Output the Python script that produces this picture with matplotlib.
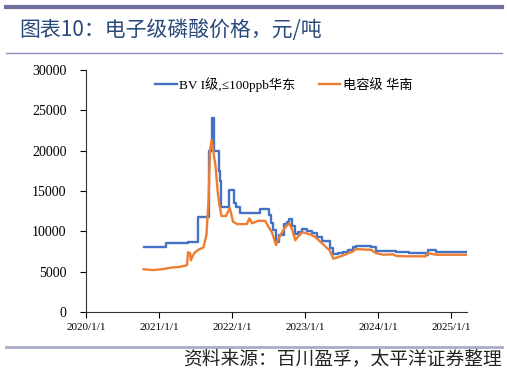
import numpy as np
import pandas as pd
import matplotlib
matplotlib.use("Agg")
import matplotlib.pyplot as plt
import matplotlib.dates as mdates
from matplotlib.lines import Line2D

# --- data (元/吨) --------------------------------------------------------------
bv_dates = ["2020-10-15", "2021-02-04", "2021-05-25", "2021-07-15", "2021-09-08",
            "2021-09-20", "2021-10-04", "2021-10-25", "2021-11-01", "2021-11-08",
            "2021-12-15", "2022-01-08", "2022-01-20", "2022-02-10", "2022-05-19",
            "2022-07-04", "2022-07-12", "2022-07-25", "2022-08-08", "2022-08-25",
            "2022-09-15", "2022-10-01", "2022-10-13", "2022-10-25", "2022-11-12",
            "2022-11-25", "2022-12-18", "2023-01-10", "2023-02-05", "2023-03-01",
            "2023-03-27", "2023-05-04", "2023-05-22", "2023-06-15", "2023-07-08",
            "2023-08-01", "2023-08-27", "2023-09-12", "2023-11-27", "2023-12-20",
            "2024-01-26", "2024-04-01", "2024-06-01", "2024-08-25", "2024-09-05",
            "2024-10-16", "2025-03-20"]
bv_vals = [8000, 8600, 8700, 11800, 20000,
           24000, 20000, 17500, 16300, 13000,
           15100, 13500, 13000, 12300, 12800,
           12000, 11000, 10200, 8700, 9500,
           10900, 11200, 11500, 10600, 9700,
           9900, 10300, 10000, 9800, 9300,
           8800, 7900, 7200, 7300, 7500,
           7700, 8000, 8200, 8000, 7600,
           7550, 7400, 7300, 7100, 7700,
           7450, 7450]

cap_dates = ["2020-10-15", "2020-12-01", "2021-01-15", "2021-03-01", "2021-04-15",
             "2021-05-20", "2021-05-25", "2021-06-05", "2021-06-08", "2021-06-25",
             "2021-07-15", "2021-08-10", "2021-08-25", "2021-09-05", "2021-09-12",
             "2021-09-20", "2021-10-10", "2021-10-20", "2021-10-28", "2021-11-08",
             "2021-12-01", "2021-12-20", "2022-01-05", "2022-01-25", "2022-03-15",
             "2022-03-28", "2022-04-10", "2022-05-10", "2022-06-15", "2022-07-01",
             "2022-07-20", "2022-08-08", "2022-08-25", "2022-09-20", "2022-10-13",
             "2022-10-28", "2022-11-12", "2022-11-25", "2022-12-18", "2023-01-15",
             "2023-02-15", "2023-03-27", "2023-05-04", "2023-05-22", "2023-06-15",
             "2023-07-08", "2023-08-27", "2023-09-12", "2023-11-27", "2023-12-20",
             "2024-01-26", "2024-03-15", "2024-04-01", "2024-06-01", "2024-08-25",
             "2024-09-05", "2024-10-16", "2025-03-20"]
cap_vals = [5300, 5200, 5300, 5500, 5600,
            5800, 7400, 7300, 6400, 7300,
            7700, 8000, 9500, 14000, 20000,
            21300, 18000, 15000, 13500, 11900,
            11900, 12900, 11200, 10900, 10900,
            11600, 11000, 11300, 11300, 10600,
            9800, 8300, 9300, 10400, 11000,
            10200, 8900, 9300, 9900, 9700,
            9400, 8500, 7600, 6600, 6800,
            7000, 7500, 7800, 7700, 7300,
            7100, 7150, 6950, 6900, 6900,
            7300, 7100, 7100]

series_labels = ["BV I级,≤100ppb华东", "电容级 华南"]
series_colors = ["#4472C4", "#ED7D31"]
yticks = [0, 5000, 10000, 15000, 20000, 25000, 30000]
xtick_dates = ["2020-01-01", "2021-01-01", "2022-01-01", "2023-01-01",
               "2024-01-01", "2025-01-01"]

title = "图表10：电子级磷酸价格，元/吨"
source = "资料来源：百川盈孚，太平洋证券整理"

W, H = 507, 373
fig = plt.figure(figsize=(W / 100, H / 100), dpi=100)
serif = ["Liberation Serif", "Noto Sans CJK SC"]
cjk = ["Noto Sans CJK SC", "DejaVu Sans"]

# page decorations
fig.add_artist(Line2D([6 / W, 502 / W], [1 - 7 / H, 1 - 7 / H], color="#6E6F9C", lw=3))
fig.add_artist(Line2D([6 / W, 502 / W], [1 - 53 / H, 1 - 53 / H], color="#8C8FC0", lw=1))
fig.add_artist(Line2D([6 / W, 502 / W], [1 - 347 / H, 1 - 347 / H], color="#A9ABCB", lw=2))
fig.text(19 / W, 1 - 30 / H, title, family=cjk, fontsize=15, color="#2A4A7B",
         va="center", ha="left")
fig.text(502 / W, 1 - 359 / H, source, family=cjk, fontsize=13.5, color="#222222",
         va="center", ha="right", style="italic")

ax = fig.add_axes([86 / W, 1 - 312 / H, (467 - 86) / W, (312 - 70) / H])
bv = pd.Series(bv_vals, index=pd.to_datetime(bv_dates))
cap = pd.Series(cap_vals, index=pd.to_datetime(cap_dates))
ax.plot(bv.index, bv.values, drawstyle="steps-post", color=series_colors[0],
        lw=1.7, label=series_labels[0])
ax.plot(cap.index, cap.values, color=series_colors[1],
        lw=1.7, label=series_labels[1])

ax.set_ylim(0, 30000)
ax.set_yticks(yticks)
ax.set_xlim(pd.Timestamp("2020-01-01"), pd.Timestamp("2025-03-20"))
ax.set_xticks(pd.to_datetime(xtick_dates))
ax.xaxis.set_major_formatter(mdates.DateFormatter("%Y/%-m/%-d"))
for s in ["top", "right"]:
    ax.spines[s].set_visible(False)
for s in ["left", "bottom"]:
    ax.spines[s].set_color("#333333")
    ax.spines[s].set_linewidth(0.8)
ax.tick_params(axis="y", labelsize=10, length=4, width=0.8, pad=10)
ax.tick_params(axis="x", labelsize=8, length=4, width=0.8, pad=4)
for lab in ax.get_xticklabels() + ax.get_yticklabels():
    lab.set_family(serif)

leg = ax.legend(loc="upper center", bbox_to_anchor=(0.52, 1.02), ncol=2,
                frameon=False, prop={"family": serif, "size": 9.5},
                handlelength=1.6, handletextpad=0.2, columnspacing=1.8)

fig.savefig("out.png", dpi=100)
